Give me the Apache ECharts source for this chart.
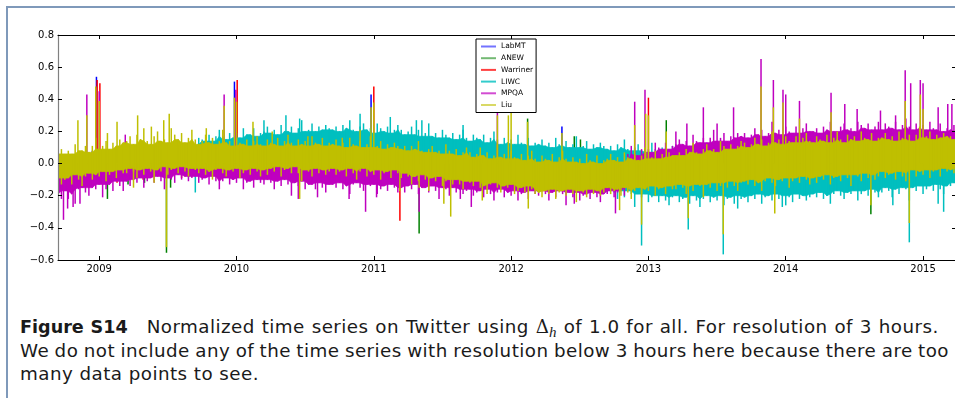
<!DOCTYPE html>
<html>
<head>
<meta charset="utf-8">
<script src="https://cdn.jsdelivr.net/npm/echarts@6/dist/echarts.min.js"></script>
<style>
  html, body { margin: 0; padding: 0; background: #fff; overflow: hidden; width: 955px; height: 398px; }
  #frame { position: absolute; left: 6px; top: 6px; width: 1000px; height: 420px;
           border-left: 2px solid #7f99ba; border-top: 2px solid #7f99ba; }
  #chart { position: absolute; left: 0; top: 0; width: 960px; height: 292px; }
  #caption { position: absolute; left: 20px; top: 315px; font-family: "DejaVu Sans", sans-serif;
             font-size: 18.3px; letter-spacing: 0.45px; line-height: 23px; color: #1a1a1a; white-space: nowrap; }
  #caption .first { word-spacing: 0.6px; }
  #caption .just { width: 929px; text-align: justify; text-align-last: justify; word-spacing: -2.5px; }
  #caption b { font-size: 17.6px; letter-spacing: 0; margin-right: 19px; }
  #caption .delta { font-family: "DejaVu Serif", serif; letter-spacing: 0; }
  #caption sub { font-family: "Liberation Serif", serif; font-style: italic; font-size: 15px; vertical-align: -4px; line-height: 0; }
</style>
</head>
<body>
<div id="frame"></div>
<div id="chart"></div>
<div id="caption">
  <div class="first"><b>Figure S14</b>Normalized time series on Twitter using <span class="delta">Δ</span><sub>h</sub> of 1.0 for all. For resolution of 3 hours.</div>
  <div class="just">We do not include any of the time series with resolution below 3 hours here because there are too</div>
  <div>many data points to see.</div>
</div>
<script>
// Tick positions (decimal years) and axis ranges
const yearTicks = [2009, 2010, 2011, 2012, 2013, 2014, 2015];
const xMin = 2008.70, xMax = 2015.24;

// Fine grid: one envelope reading every 0.025 year (20 readings per row = half a year)
const fineStart = 2008.70, fineStep = 0.025;
// Coarse grid for the three lexicons that sit underneath the others
const coarseStart = 2008.70, coarseStep = 0.25;

// Liu: upper / lower envelope
const liuHi = [
  0.06,0.09,0.06,0.08,0.06,0.12,0.08,0.08,0.11,0.07,0.11,0.16,0.09,0.11,0.14,0.09,0.13,0.11,0.15,0.13,
  0.14,0.17,0.12,0.18,0.15,0.22,0.14,0.12,0.17,0.20,0.14,0.15,0.13,0.22,0.18,0.15,0.19,0.13,0.16,0.21,
  0.15,0.12,0.14,0.18,0.13,0.16,0.12,0.14,0.21,0.13,0.14,0.11,0.16,0.13,0.12,0.15,0.11,0.14,0.17,0.12,
  0.11,0.15,0.13,0.12,0.16,0.11,0.14,0.18,0.13,0.11,0.15,0.12,0.14,0.11,0.17,0.13,0.12,0.16,0.11,0.13,
  0.12,0.15,0.11,0.13,0.10,0.16,0.12,0.11,0.14,0.10,0.12,0.17,0.10,0.11,0.14,0.09,0.12,0.10,0.13,0.11,
  0.09,0.11,0.08,0.11,0.09,0.14,0.08,0.07,0.09,0.11,0.07,0.08,0.06,0.12,0.08,0.06,0.09,0.05,0.07,0.10,
  0.07,0.04,0.06,0.10,0.05,0.07,0.03,0.05,0.12,0.04,0.06,0.03,0.08,0.04,0.03,0.06,0.02,0.05,0.08,0.03,
  0.01,0.05,0.03,0.02,0.06,0.01,0.04,0.08,0.03,0.01,0.04,0.01,0.03,0.00,0.06,0.02,0.01,0.05,0.00,0.02,
  0.03,0.06,0.02,0.04,0.01,0.07,0.04,0.03,0.06,0.02,0.05,0.10,0.03,0.04,0.08,0.03,0.06,0.04,0.07,0.05,
  0.05,0.07,0.05,0.09,0.07,0.13,0.07,0.06,0.09,0.12,0.08,0.09,0.07,0.14,0.11,0.09,0.12,0.09,0.11,0.14,
  0.13,0.10,0.12,0.16,0.12,0.15,0.11,0.13,0.20,0.13,0.15,0.12,0.17,0.14,0.13,0.17,0.13,0.16,0.19,0.14,
  0.13,0.17,0.15,0.14,0.18,0.13,0.16,0.20,0.15,0.13,0.18,0.15,0.17,0.14,0.20,0.16,0.15,0.19,0.14,0.16,
  0.16,0.19,0.15,0.17,0.14,0.20,0.16,0.15,0.18,0.14,0.18,0.23,0.16,0.17,0.20,0.15,0.18,0.16,0.19,0.17,
  0.17,0.15,0.18
];
const liuLo = [
  -0.09,-0.13,-0.10,-0.09,-0.13,-0.07,-0.10,-0.14,-0.08,-0.06,-0.10,-0.07,-0.08,-0.05,-0.11,-0.07,-0.05,-0.09,-0.04,-0.06,
  -0.06,-0.03,-0.05,-0.09,-0.04,-0.07,-0.03,-0.05,-0.12,-0.04,-0.05,-0.02,-0.07,-0.04,-0.03,-0.06,-0.02,-0.05,-0.08,-0.03,
  -0.04,-0.06,-0.03,-0.07,-0.05,-0.10,-0.04,-0.03,-0.06,-0.08,-0.04,-0.05,-0.03,-0.09,-0.06,-0.04,-0.07,-0.03,-0.05,-0.08,
  -0.04,-0.07,-0.03,-0.05,-0.02,-0.08,-0.04,-0.03,-0.06,-0.02,-0.06,-0.11,-0.04,-0.05,-0.08,-0.03,-0.06,-0.04,-0.07,-0.05,
  -0.03,-0.07,-0.05,-0.04,-0.08,-0.03,-0.06,-0.10,-0.05,-0.03,-0.08,-0.05,-0.07,-0.04,-0.10,-0.06,-0.05,-0.09,-0.04,-0.06,
  -0.09,-0.06,-0.08,-0.13,-0.08,-0.11,-0.07,-0.10,-0.17,-0.09,-0.11,-0.08,-0.14,-0.11,-0.10,-0.13,-0.10,-0.13,-0.16,-0.11,
  -0.12,-0.14,-0.11,-0.15,-0.14,-0.19,-0.13,-0.12,-0.15,-0.18,-0.14,-0.15,-0.13,-0.19,-0.17,-0.15,-0.18,-0.14,-0.16,-0.19,
  -0.18,-0.21,-0.17,-0.19,-0.16,-0.22,-0.18,-0.17,-0.20,-0.16,-0.19,-0.24,-0.17,-0.18,-0.21,-0.16,-0.19,-0.17,-0.20,-0.18,
  -0.15,-0.19,-0.17,-0.16,-0.20,-0.15,-0.18,-0.22,-0.17,-0.15,-0.19,-0.16,-0.17,-0.14,-0.20,-0.16,-0.15,-0.19,-0.14,-0.16,
  -0.16,-0.13,-0.15,-0.19,-0.14,-0.17,-0.13,-0.14,-0.21,-0.13,-0.15,-0.12,-0.17,-0.14,-0.12,-0.15,-0.11,-0.14,-0.17,-0.12,
  -0.11,-0.13,-0.10,-0.14,-0.12,-0.17,-0.11,-0.09,-0.12,-0.14,-0.10,-0.11,-0.09,-0.15,-0.11,-0.09,-0.12,-0.08,-0.10,-0.13,
  -0.09,-0.12,-0.08,-0.10,-0.07,-0.13,-0.09,-0.08,-0.11,-0.07,-0.09,-0.14,-0.07,-0.08,-0.11,-0.06,-0.09,-0.07,-0.10,-0.08,
  -0.05,-0.09,-0.07,-0.06,-0.10,-0.05,-0.08,-0.11,-0.06,-0.04,-0.08,-0.05,-0.07,-0.04,-0.09,-0.05,-0.04,-0.08,-0.03,-0.05,
  -0.04,-0.06,-0.03
];

// MPQA envelope
const mpqaHi = [
  0.02,0.02,0.03,0.03,0.04,0.04,0.04,0.05,0.05,0.05,0.06,0.06,0.06,0.07,0.07,0.07,0.08,0.08,0.09,0.09,
  0.10,0.10,0.10,0.10,0.10,0.10,0.10,0.10,0.10,0.10,0.10,0.10,0.10,0.10,0.10,0.10,0.10,0.10,0.10,0.10,
  0.10,0.10,0.10,0.10,0.10,0.10,0.10,0.10,0.10,0.10,0.09,0.09,0.09,0.09,0.09,0.09,0.09,0.09,0.09,0.09,
  0.09,0.09,0.09,0.09,0.09,0.09,0.09,0.09,0.09,0.09,0.09,0.09,0.09,0.09,0.09,0.09,0.09,0.09,0.09,0.09,
  0.08,0.08,0.08,0.08,0.08,0.08,0.08,0.08,0.08,0.08,0.07,0.07,0.07,0.07,0.07,0.07,0.07,0.07,0.07,0.07,
  0.06,0.06,0.06,0.05,0.05,0.05,0.05,0.05,0.04,0.04,0.04,0.04,0.04,0.04,0.03,0.03,0.03,0.03,0.03,0.03,
  0.02,0.02,0.02,0.02,0.02,0.02,0.02,0.02,0.01,0.01,0.01,0.01,0.01,0.01,0.01,0.01,0.01,0.01,0.01,0.01,
  -0.01,-0.01,-0.01,-0.01,-0.01,-0.01,-0.01,-0.01,-0.01,-0.01,-0.02,-0.02,-0.02,-0.02,-0.02,-0.02,-0.02,-0.02,-0.02,-0.02,
  -0.01,-0.01,0.00,0.00,0.01,0.01,0.06,0.11,0.06,0.05,0.09,0.07,0.09,0.07,0.13,0.10,0.09,0.13,0.09,0.11,
  0.12,0.15,0.12,0.14,0.11,0.18,0.14,0.13,0.16,0.13,0.16,0.21,0.14,0.16,0.19,0.14,0.17,0.16,0.19,0.17,
  0.19,0.16,0.18,0.22,0.18,0.21,0.17,0.19,0.26,0.19,0.21,0.18,0.23,0.20,0.19,0.23,0.19,0.22,0.25,0.20,
  0.20,0.22,0.19,0.23,0.21,0.26,0.20,0.20,0.23,0.25,0.21,0.22,0.20,0.26,0.24,0.22,0.25,0.21,0.23,0.26,
  0.21,0.25,0.23,0.22,0.26,0.21,0.24,0.28,0.23,0.21,0.25,0.22,0.24,0.21,0.26,0.22,0.21,0.25,0.20,0.22,
  0.21,0.24,0.20
];
const mpqaLo = [
  -0.19,-0.22,-0.17,-0.22,-0.19,-0.25,-0.16,-0.15,-0.18,-0.20,-0.15,-0.16,-0.13,-0.21,-0.16,-0.13,-0.17,-0.11,-0.14,-0.17,
  -0.11,-0.14,-0.10,-0.12,-0.09,-0.15,-0.11,-0.09,-0.12,-0.08,-0.11,-0.16,-0.09,-0.10,-0.12,-0.07,-0.10,-0.08,-0.11,-0.09,
  -0.08,-0.12,-0.10,-0.09,-0.13,-0.08,-0.11,-0.16,-0.11,-0.09,-0.13,-0.10,-0.12,-0.09,-0.16,-0.12,-0.11,-0.15,-0.10,-0.12,
  -0.13,-0.10,-0.12,-0.16,-0.11,-0.14,-0.10,-0.13,-0.20,-0.12,-0.14,-0.11,-0.16,-0.13,-0.13,-0.16,-0.12,-0.15,-0.18,-0.13,
  -0.13,-0.15,-0.12,-0.16,-0.14,-0.19,-0.13,-0.12,-0.15,-0.17,-0.13,-0.14,-0.13,-0.19,-0.16,-0.14,-0.17,-0.13,-0.15,-0.18,
  -0.15,-0.18,-0.14,-0.16,-0.13,-0.19,-0.15,-0.15,-0.18,-0.14,-0.17,-0.22,-0.15,-0.16,-0.20,-0.15,-0.18,-0.16,-0.19,-0.17,
  -0.16,-0.20,-0.18,-0.17,-0.21,-0.16,-0.19,-0.23,-0.18,-0.16,-0.21,-0.18,-0.20,-0.17,-0.23,-0.19,-0.18,-0.22,-0.17,-0.19,
  -0.20,-0.17,-0.19,-0.23,-0.18,-0.21,-0.17,-0.19,-0.26,-0.18,-0.21,-0.18,-0.23,-0.20,-0.19,-0.22,-0.18,-0.21,-0.24,-0.19,
  -0.19,-0.17,-0.21,-0.18,-0.17,-0.20,-0.15,-0.14,-0.13,-0.13,-0.12,-0.12,-0.12,-0.11,-0.11,-0.11,-0.10,-0.10,-0.10,-0.10,
  -0.10,-0.10,-0.10,-0.10,-0.10,-0.09,-0.09,-0.09,-0.09,-0.09,-0.09,-0.09,-0.09,-0.08,-0.08,-0.08,-0.08,-0.08,-0.08,-0.08,
  -0.07,-0.07,-0.07,-0.07,-0.07,-0.07,-0.07,-0.06,-0.06,-0.06,-0.06,-0.06,-0.06,-0.06,-0.05,-0.05,-0.05,-0.05,-0.05,-0.05,
  -0.05,-0.05,-0.05,-0.05,-0.05,-0.05,-0.05,-0.04,-0.04,-0.04,-0.04,-0.04,-0.04,-0.04,-0.03,-0.03,-0.03,-0.03,-0.03,-0.03,
  -0.02,-0.02,-0.02,-0.02,-0.02,-0.02,-0.02,-0.01,-0.01,-0.01,-0.01,-0.01,-0.01,-0.01,0.00,0.00,0.00,0.00,0.00,0.00,
  0.00,0.00,0.00
];

// LIWC envelope
const liwcHi = [
  0.03,0.03,0.04,0.04,0.05,0.05,0.05,0.06,0.06,0.06,0.07,0.07,0.07,0.08,0.08,0.08,0.09,0.09,0.10,0.10,
  0.11,0.11,0.11,0.11,0.11,0.11,0.11,0.11,0.11,0.11,0.11,0.11,0.11,0.11,0.11,0.11,0.11,0.11,0.11,0.11,
  0.12,0.16,0.15,0.14,0.18,0.14,0.17,0.21,0.17,0.15,0.19,0.16,0.19,0.16,0.22,0.18,0.18,0.22,0.17,0.19,
  0.20,0.23,0.19,0.21,0.18,0.24,0.20,0.20,0.23,0.19,0.22,0.27,0.20,0.21,0.25,0.20,0.23,0.21,0.24,0.22,
  0.21,0.23,0.20,0.24,0.22,0.27,0.21,0.20,0.23,0.25,0.21,0.22,0.19,0.25,0.22,0.20,0.23,0.19,0.21,0.24,
  0.21,0.18,0.20,0.23,0.18,0.21,0.17,0.19,0.25,0.17,0.19,0.16,0.21,0.18,0.16,0.19,0.15,0.18,0.21,0.16,
  0.14,0.18,0.16,0.15,0.18,0.13,0.16,0.20,0.15,0.12,0.16,0.13,0.15,0.12,0.18,0.13,0.12,0.16,0.11,0.13,
  0.12,0.15,0.11,0.13,0.10,0.16,0.12,0.11,0.14,0.10,0.12,0.17,0.10,0.11,0.14,0.09,0.12,0.10,0.13,0.11,
  0.09,0.11,0.08,0.12,0.10,0.15,0.09,0.08,0.10,0.12,0.08,0.09,0.07,0.13,0.09,0.07,0.10,0.06,0.08,0.11,
  0.05,0.05,0.05,0.05,0.05,0.05,0.05,0.05,0.05,0.05,0.06,0.06,0.06,0.06,0.06,0.06,0.06,0.06,0.06,0.06,
  0.06,0.06,0.06,0.06,0.06,0.06,0.06,0.06,0.06,0.06,0.07,0.07,0.07,0.07,0.07,0.07,0.07,0.07,0.07,0.07,
  0.07,0.07,0.07,0.07,0.07,0.07,0.07,0.07,0.07,0.07,0.08,0.08,0.08,0.08,0.08,0.08,0.08,0.08,0.08,0.08,
  0.08,0.08,0.08,0.08,0.08,0.08,0.08,0.08,0.08,0.08,0.09,0.09,0.09,0.09,0.09,0.09,0.09,0.09,0.09,0.09,
  0.09,0.09,0.09
];
const liwcLo = [
  -0.08,-0.08,-0.07,-0.07,-0.07,-0.06,-0.06,-0.06,-0.05,-0.05,-0.05,-0.05,-0.04,-0.04,-0.04,-0.04,-0.03,-0.03,-0.03,-0.03,
  -0.02,-0.02,-0.02,-0.02,-0.02,-0.02,-0.02,-0.02,-0.02,-0.02,-0.02,-0.02,-0.02,-0.02,-0.02,-0.02,-0.02,-0.02,-0.02,-0.02,
  -0.02,-0.02,-0.02,-0.02,-0.02,-0.02,-0.02,-0.02,-0.02,-0.02,-0.02,-0.02,-0.02,-0.02,-0.02,-0.02,-0.02,-0.02,-0.02,-0.02,
  -0.02,-0.02,-0.02,-0.02,-0.02,-0.02,-0.02,-0.02,-0.02,-0.02,-0.03,-0.03,-0.03,-0.03,-0.03,-0.03,-0.03,-0.03,-0.03,-0.03,
  -0.03,-0.03,-0.03,-0.03,-0.03,-0.03,-0.03,-0.03,-0.03,-0.03,-0.04,-0.04,-0.04,-0.04,-0.04,-0.04,-0.04,-0.04,-0.04,-0.04,
  -0.05,-0.05,-0.05,-0.06,-0.06,-0.06,-0.06,-0.07,-0.07,-0.07,-0.07,-0.07,-0.08,-0.08,-0.08,-0.08,-0.09,-0.09,-0.09,-0.09,
  -0.11,-0.11,-0.11,-0.11,-0.12,-0.12,-0.12,-0.12,-0.12,-0.13,-0.13,-0.13,-0.13,-0.13,-0.14,-0.14,-0.14,-0.14,-0.14,-0.14,
  -0.15,-0.15,-0.15,-0.15,-0.15,-0.15,-0.15,-0.15,-0.15,-0.15,-0.15,-0.15,-0.15,-0.15,-0.15,-0.15,-0.15,-0.15,-0.15,-0.15,
  -0.18,-0.15,-0.18,-0.22,-0.17,-0.21,-0.17,-0.19,-0.27,-0.19,-0.21,-0.19,-0.24,-0.21,-0.20,-0.24,-0.20,-0.23,-0.26,-0.21,
  -0.20,-0.24,-0.22,-0.21,-0.25,-0.20,-0.23,-0.27,-0.22,-0.20,-0.24,-0.21,-0.23,-0.20,-0.26,-0.22,-0.21,-0.25,-0.20,-0.22,
  -0.21,-0.24,-0.20,-0.22,-0.19,-0.25,-0.21,-0.20,-0.23,-0.19,-0.22,-0.27,-0.20,-0.21,-0.24,-0.19,-0.22,-0.20,-0.23,-0.21,
  -0.19,-0.21,-0.18,-0.22,-0.20,-0.25,-0.19,-0.17,-0.20,-0.22,-0.18,-0.19,-0.17,-0.23,-0.19,-0.17,-0.20,-0.16,-0.18,-0.21,
  -0.18,-0.15,-0.17,-0.21,-0.16,-0.19,-0.15,-0.16,-0.23,-0.15,-0.17,-0.14,-0.19,-0.16,-0.14,-0.17,-0.13,-0.16,-0.19,-0.14,
  -0.14,-0.12,-0.15
];

// LabMT, ANEW, Warriner envelopes on the coarse grid
const labmtHi = [0.02, 0.08, 0.11, 0.12, 0.11, 0.10, 0.09, 0.09, 0.08, 0.08, 0.06, 0.03, 0.01, 0.00,
  -0.01, -0.02, -0.02, -0.01, 0.01, 0.04, 0.07, 0.09, 0.10, 0.12, 0.12, 0.13, 0.13, 0.13];
const labmtLo = [-0.08, -0.04, -0.01, 0.00, 0.00, -0.01, 0.00, -0.01, -0.01, -0.02, -0.04, -0.07, -0.10, -0.13,
  -0.14, -0.14, -0.14, -0.14, -0.12, -0.11, -0.09, -0.08, -0.06, -0.05, -0.04, -0.03, -0.01, -0.01];
const anewHi = [0.03, 0.07, 0.10, 0.11, 0.10, 0.10, 0.09, 0.08, 0.08, 0.07, 0.05, 0.03, 0.01, 0.00,
  -0.01, -0.02, -0.01, 0.00, 0.02, 0.04, 0.07, 0.09, 0.11, 0.12, 0.12, 0.13, 0.13, 0.13];
const anewLo = [-0.10, -0.06, -0.03, -0.02, -0.02, -0.03, -0.02, -0.02, -0.03, -0.04, -0.05, -0.08, -0.11, -0.13,
  -0.14, -0.15, -0.15, -0.14, -0.13, -0.11, -0.10, -0.08, -0.07, -0.06, -0.04, -0.03, -0.02, -0.02];
const warrinerHi = [0.02, 0.07, 0.10, 0.11, 0.10, 0.09, 0.09, 0.08, 0.07, 0.07, 0.05, 0.02, 0.00, -0.01,
  -0.02, -0.02, -0.02, -0.01, 0.01, 0.03, 0.06, 0.08, 0.10, 0.11, 0.12, 0.12, 0.12, 0.12];
const warrinerLo = [-0.09, -0.05, -0.02, -0.01, -0.01, -0.02, -0.01, -0.02, -0.02, -0.03, -0.05, -0.08, -0.11, -0.14,
  -0.15, -0.15, -0.15, -0.14, -0.13, -0.11, -0.09, -0.08, -0.06, -0.05, -0.04, -0.03, -0.02, -0.01];

// Isolated excursions: [decimal year, value]
const labmtSpikes = [[2008.98, 0.54], [2009.985, 0.51], [2010.98, 0.43], [2012.37, 0.23]];
const anewSpikes = [[2008.93, -0.12], [2009.06, -0.22], [2009.21, -0.13], [2009.33, -0.12], [2009.49, -0.555],
  [2009.52, -0.15], [2011.33, -0.435], [2012.12, 0.28], [2012.46, 0.17], [2012.505, 0.15], [2013.13, 0.27],
  [2014.62, -0.315]];
const warrinerSpikes = [[2008.985, 0.52], [2009.005, 0.50], [2009.13, -0.12], [2009.32, -0.10], [2009.6, -0.09],
  [2010.005, 0.52], [2011.0, 0.48], [2011.19, -0.355], [2013.0, 0.41]];
const liwcSpikes = [[2009.7, -0.18], [2010.2, 0.27], [2010.36, 0.30], [2010.46, 0.28], [2010.9, 0.31],
  [2011.12, 0.29], [2011.31, 0.27], [2011.35, 0.27], [2011.65, 0.24], [2012.95, -0.51], [2013.29, -0.41],
  [2013.545, -0.565], [2013.65, -0.28], [2014.0, -0.26], [2014.78, -0.26], [2014.9, -0.49], [2015.11, -0.25],
  [2015.15, -0.30]];
const mpqaSpikes = [[2008.74, -0.35], [2008.77, -0.28], [2008.81, -0.27], [2008.86, -0.25], [2008.91, 0.43],
  [2008.975, 0.47], [2009.0, 0.45], [2009.19, 0.18], [2009.91, 0.43], [2009.995, 0.46], [2010.45, -0.22],
  [2010.59, -0.21], [2010.82, -0.22], [2010.94, -0.30], [2011.02, -0.21], [2011.33, -0.30], [2011.63, -0.22],
  [2011.71, -0.27], [2011.9, 0.36], [2012.46, -0.25], [2012.76, -0.31], [2012.9, 0.385], [2012.975, 0.46],
  [2013.2, 0.20], [2013.28, 0.25], [2013.4, 0.35], [2013.5, 0.25], [2013.62, 0.35], [2013.82, 0.65],
  [2013.91, 0.52], [2013.98, 0.46], [2014.0, 0.43], [2014.1, 0.39], [2014.33, 0.44], [2014.43, 0.37],
  [2014.52, 0.34], [2014.69, 0.33], [2014.8, 0.30], [2014.87, 0.58], [2014.91, 0.50], [2014.98, 0.52],
  [2015.0, 0.50], [2015.11, 0.35], [2015.18, 0.37], [2015.21, 0.37]];
const liuSpikes = [[2008.845, 0.27], [2008.91, 0.30], [2008.975, 0.48], [2009.0, 0.39], [2009.06, 0.19],
  [2009.13, 0.26], [2009.25, -0.15], [2009.28, 0.30], [2009.38, 0.23], [2009.47, 0.27], [2009.49, -0.52],
  [2009.51, 0.31], [2009.78, 0.22], [2009.91, 0.36], [2009.985, 0.41], [2010.0, 0.385], [2010.12, 0.26],
  [2010.26, 0.20], [2010.46, -0.22], [2010.52, 0.17], [2010.77, 0.16], [2010.9, 0.21], [2010.98, 0.35],
  [2011.0, 0.38], [2011.19, -0.17], [2011.33, -0.15], [2011.51, -0.25], [2011.56, -0.33], [2011.79, -0.23],
  [2011.9, 0.30], [2011.98, 0.30], [2012.0, 0.36], [2012.12, 0.26], [2012.125, -0.28], [2012.37, 0.19],
  [2012.79, -0.29], [2012.9, 0.24], [2012.95, -0.38], [2012.98, 0.31], [2013.0, 0.30], [2013.13, 0.20],
  [2013.29, -0.34], [2013.545, -0.44], [2013.82, 0.48], [2013.91, 0.35], [2013.92, -0.31], [2013.98, 0.38],
  [2014.1, 0.28], [2014.33, 0.32], [2014.62, -0.26], [2014.87, 0.39], [2014.9, -0.37], [2014.98, 0.43],
  [2015.0, 0.34]];

// Drawing order follows the legend: later lexicons are painted over earlier ones
const lexicons = [
  { name: 'LabMT',    color: '#0000ff', legend: 'rgba(0,0,255,0.55)',   hi: labmtHi,    lo: labmtLo,    start: coarseStart, step: coarseStep, spikes: labmtSpikes },
  { name: 'ANEW',     color: '#008000', legend: 'rgba(0,128,0,0.55)',   hi: anewHi,     lo: anewLo,     start: coarseStart, step: coarseStep, spikes: anewSpikes },
  { name: 'Warriner', color: '#ff0000', legend: 'rgba(255,0,0,0.75)',   hi: warrinerHi, lo: warrinerLo, start: coarseStart, step: coarseStep, spikes: warrinerSpikes },
  { name: 'LIWC',     color: '#00bfbf', legend: 'rgba(0,191,191,0.8)',  hi: liwcHi,     lo: liwcLo,     start: fineStart,   step: fineStep,   spikes: liwcSpikes },
  { name: 'MPQA',     color: '#bf00bf', legend: 'rgba(191,0,191,0.7)',  hi: mpqaHi,     lo: mpqaLo,     start: fineStart,   step: fineStep,   spikes: mpqaSpikes },
  { name: 'Liu',      color: '#bfbf00', legend: 'rgba(191,191,0,0.6)',  hi: liuHi,      lo: liuLo,      start: fineStart,   step: fineStep,   spikes: liuSpikes }
];

const series = [];
lexicons.forEach((lx, k) => {
  const n = lx.hi.length;
  const t = lx.hi.map((_, i) => +(lx.start + i * lx.step).toFixed(3));
  // solid core of the band: the envelope readings shared by each reading and its neighbours
  const coreHi = lx.hi.map((v, i) => Math.min(v, lx.hi[Math.max(i - 1, 0)], lx.hi[Math.min(i + 1, n - 1)]));
  const coreLo = lx.lo.map((v, i) => Math.max(v, lx.lo[Math.max(i - 1, 0)], lx.lo[Math.min(i + 1, n - 1)]));
  const segments = [];
  for (let i = 0; i + 1 < n; i++) {
    segments.push([t[i], coreLo[i], coreHi[i], t[i + 1], coreLo[i + 1], coreHi[i + 1]]);
  }
  series.push({
    name: lx.name, type: 'custom', silent: true, clip: true,
    data: segments,
    encode: { x: [0, 3], y: [1, 2, 4, 5] },
    renderItem: (params, api) => {
      const pts = [
        api.coord([api.value(0), api.value(1)]),
        api.coord([api.value(0), api.value(2)]),
        api.coord([api.value(3), api.value(5)]),
        api.coord([api.value(3), api.value(4)])
      ];
      return { type: 'polygon', shape: { points: pts },
               style: { fill: lx.color, stroke: lx.color, lineWidth: 0.7 } };
    },
    z: 2 + 2 * k
  });
  // every reading as a vertical stroke from its low to its high value (the ragged fringe)
  const hairs = t.map((x, i) => [x, lx.lo[i], lx.hi[i]]);
  // plus isolated excursions, drawn from zero
  const spikes = lx.spikes.map(s => [s[0], 0, s[1]]);
  series.push({
    name: lx.name, type: 'custom', silent: true, clip: true, data: hairs.concat(spikes),
    encode: { x: 0, y: [1, 2] },
    renderItem: (params, api) => {
      const a = api.coord([api.value(0), api.value(1)]);
      const b = api.coord([api.value(0), api.value(2)]);
      return { type: 'line', shape: { x1: a[0], y1: a[1], x2: a[0], y2: b[1] },
               style: { stroke: lx.color, lineWidth: 1.5 } };
    },
    z: 3 + 2 * k
  });
});

const fmtY = v => {
  if (Math.abs(v) < 1e-9) v = 0;
  return v.toFixed(1).replace('-', '\u2212');
};

const chart = echarts.init(document.getElementById('chart'), null, { renderer: 'canvas' });
chart.setOption({
  animation: false,
  textStyle: { fontFamily: 'DejaVu Sans' },
  grid: { left: 58, top: 35, width: 898, height: 225, containLabel: false, outerBoundsMode: 'none' },
  legend: {
    left: 476, top: 39, orient: 'vertical', z: 30,
    backgroundColor: '#ffffff', borderColor: '#000000', borderWidth: 1, borderRadius: 0,
    padding: [3, 3, 3, 5], itemWidth: 15, itemHeight: 2, itemGap: 2.7,
    textStyle: { fontSize: 7.5, lineHeight: 9, color: '#000', fontFamily: 'DejaVu Sans' },
    selectedMode: false,
    data: lexicons.map(lx => ({ name: lx.name, icon: 'rect', itemStyle: { color: lx.legend, borderWidth: 0 } }))
  },
  xAxis: [
    {
      type: 'value', min: xMin, max: xMax, position: 'bottom', z: 20,
      axisLine: { show: true, onZero: false, lineStyle: { color: '#000', width: 1 } },
      axisTick: { show: true, inside: true, length: 4, customValues: yearTicks, lineStyle: { color: '#000' } },
      axisLabel: { show: true, customValues: yearTicks, margin: 4, fontSize: 10, color: '#000',
                   fontFamily: 'DejaVu Sans', formatter: v => String(Math.round(v)) },
      splitLine: { show: false }
    },
    {
      type: 'value', min: xMin, max: xMax, position: 'top', z: 20,
      axisLine: { show: true, onZero: false, lineStyle: { color: '#000', width: 1 } },
      axisTick: { show: true, inside: true, length: 4, customValues: yearTicks, lineStyle: { color: '#000' } },
      axisLabel: { show: false },
      splitLine: { show: false }
    }
  ],
  yAxis: [
    {
      type: 'value', min: -0.6, max: 0.8, interval: 0.2, position: 'left', z: 20,
      axisLine: { show: true, onZero: false, lineStyle: { color: '#808080', width: 1.2 } },
      axisTick: { show: true, inside: true, length: 4, lineStyle: { color: '#000' } },
      axisLabel: { show: true, margin: 4, fontSize: 10, color: '#000', fontFamily: 'DejaVu Sans', formatter: fmtY },
      splitLine: { show: false }
    },
    {
      type: 'value', min: -0.6, max: 0.8, interval: 0.2, position: 'right', z: 20,
      axisLine: { show: false },
      axisTick: { show: true, inside: true, length: 4, lineStyle: { color: '#000' } },
      axisLabel: { show: false },
      splitLine: { show: false }
    }
  ],
  series: series
});
</script>
</body>
</html>
